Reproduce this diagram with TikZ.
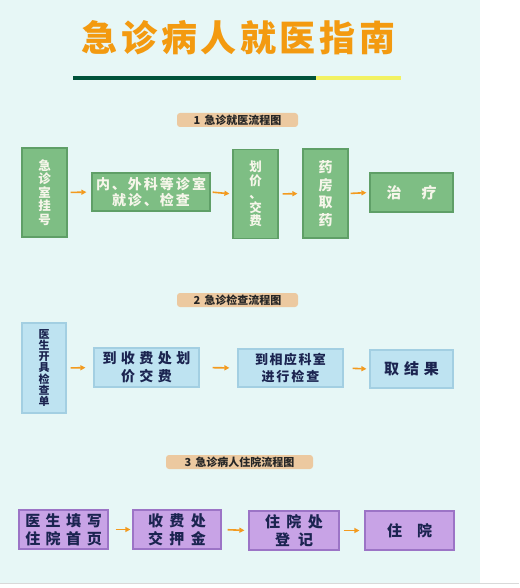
\documentclass[tikz,border=0pt]{standalone}
\usepackage{fontspec}
\newfontfamily\cjk{Noto Sans CJK SC}
\usetikzlibrary{arrows.meta}
\definecolor{bgcyan}{HTML}{E7F7F6}
\definecolor{titleor}{HTML}{F39A10}
\definecolor{arror}{HTML}{F39A1E}
\definecolor{dgreen}{HTML}{00533A}
\definecolor{lyellow}{HTML}{F2F262}
\definecolor{gfill}{HTML}{7EBE84}
\definecolor{gborder}{HTML}{5F9F67}
\definecolor{gtext}{HTML}{F6F6EA}
\definecolor{bfill}{HTML}{BEE3F1}
\definecolor{bborder}{HTML}{A3CFE2}
\definecolor{pfill}{HTML}{C8A3E6}
\definecolor{pborder}{HTML}{9C74C6}
\definecolor{navy}{HTML}{1B2450}
\definecolor{tan}{HTML}{ECC9A0}
\newlength\lsk
\def\ls#1#2{\setlength\lsk{#1}\lsA#2\relax\kern-\lsk}
\def\lsA#1{\ifx#1\relax\else#1\kern\lsk\expandafter\lsA\fi}
\tikzset{
  box/.style={rectangle, inner sep=0pt, align=center, line width=1.2pt},
  gbox/.style={box, fill=gfill, draw=gborder, text=gtext, font=\cjk\bfseries\fontsize{14}{16}\selectfont},
  bbox/.style={box, fill=bfill, draw=bborder, text=navy, font=\cjk\bfseries\fontsize{14}{18}\selectfont},
  pbox/.style={box, fill=pfill, draw=pborder, text=navy, font=\cjk\bfseries\fontsize{15}{18}\selectfont},
  lbl/.style={rectangle, rounded corners=3pt, fill=tan, inner sep=0pt, minimum height=14pt, text=black!85, font=\cjk\bfseries\fontsize{11}{12}\selectfont},
  arr/.style={-{Triangle[length=5pt,width=5pt]}, line width=1.6pt, draw=arror},
}
\begin{document}
\begin{tikzpicture}[x=1pt,y=-1pt]
\useasboundingbox (0,0) rectangle (519,588);
\fill[white] (0,0) rectangle (519,588);
\fill[bgcyan] (0,0) rectangle (480,583);
\draw[black!15, line width=0.8pt] (0,583.5) -- (519,583.5);
% title
\node[inner sep=0pt, text=titleor, font=\cjk\bfseries\fontsize{36}{40}\selectfont] (title) at (238.5,38) {\ls{3.6pt}{急诊病人就医指南}};
\draw[line width=4pt, dgreen] (73,78) -- (316,78);
\draw[line width=4pt, lyellow] (316,78) -- (401,78);
% section 1
\node[lbl, minimum width=121pt] (l1) at (237.5,120) {1\kern4pt 急诊就医流程图};
\node[gbox, minimum width=45pt, minimum height=89pt, font=\cjk\bfseries\fontsize{12.5}{13.6}\selectfont] (a1) at (44.5,192.5) {急\\诊\\室\\挂\\号};
\node[gbox, minimum width=118pt, minimum height=38pt] (b1) at (151,192) {\ls{2pt}{内、外科等诊室}\\\ls{2pt}{就诊、检查}};
\node[gbox, minimum width=45pt, minimum height=89pt, font=\cjk\bfseries\fontsize{12.5}{13.6}\selectfont] (c1) at (255.5,194) {划\\价\\、\\交\\费};
\node[gbox, minimum width=45pt, minimum height=89pt, font=\cjk\bfseries\fontsize{14}{17.5}\selectfont] (d1) at (325.5,193.5) {药\\房\\取\\药};
\node[gbox, minimum width=83pt, minimum height=39pt, font=\cjk\bfseries\fontsize{15}{17}\selectfont] (e1) at (411.5,192.5) {\ls{20pt}{治疗}};
\draw[arr, shorten <=3pt, shorten >=5pt] (a1.east) -- (b1.west);
\draw[arr, shorten <=2pt, shorten >=3pt] (b1.east) -- (c1.west);
\draw[arr, shorten <=4pt, shorten >=5pt] (c1.east) -- (d1.west);
\draw[arr, shorten <=2pt, shorten >=3pt] (d1.east) -- (e1.west);
% section 2
\node[lbl, minimum width=121pt] (l2) at (237.5,300) {2\kern4pt 急诊检查流程图};
\node[bbox, minimum width=44pt, minimum height=90pt, font=\cjk\bfseries\fontsize{11}{11.3}\selectfont] (a2) at (44,368) {医\\生\\开\\具\\检\\查\\单};
\node[bbox, minimum width=105pt, minimum height=39pt] (b2) at (146.5,367.5) {\ls{4.5pt}{到收费处划}\\\ls{4.5pt}{价交费}};
\node[bbox, minimum width=105pt, minimum height=38pt, font=\cjk\bfseries\fontsize{13}{17}\selectfont] (c2) at (290.5,368) {\ls{1.5pt}{到相应科室}\\\ls{2pt}{进行检查}};
\node[bbox, minimum width=83pt, minimum height=38pt, font=\cjk\bfseries\fontsize{15}{17}\selectfont] (d2) at (411.5,369) {\ls{5pt}{取结果}};
\draw[arr, shorten <=4pt, shorten >=8pt] (a2.east) -- (b2.west);
\draw[arr, shorten <=13pt, shorten >=8pt] (b2.east) -- (c2.west);
\draw[arr, shorten <=9pt, shorten >=3pt] (c2.east) -- (d2.west);
% section 3
\node[lbl, minimum width=147pt] (l3) at (239.5,462) {3\kern4pt 急诊病人住院流程图};
\node[pbox, minimum width=89pt, minimum height=39pt] (a3) at (63.5,529.5) {\ls{5.5pt}{医生填写}\\\ls{5.5pt}{住院首页}};
\node[pbox, minimum width=88pt, minimum height=39pt] (b3) at (177,529.5) {\ls{6.5pt}{收费处}\\\ls{6.5pt}{交押金}};
\node[pbox, minimum width=90pt, minimum height=39pt] (c3) at (294,530.5) {\ls{6.5pt}{住院处}\\\ls{8pt}{登记}};
\node[pbox, minimum width=89pt, minimum height=39pt] (d3) at (409.5,530.5) {\ls{15pt}{住院}};
\draw[arr, shorten <=7pt, shorten >=2pt] (a3.east) -- (b3.west);
\draw[arr, shorten <=6pt, shorten >=4pt] (b3.east) -- (c3.west);
\draw[arr, shorten <=4pt, shorten >=5pt] (c3.east) -- (d3.west);
\end{tikzpicture}
\end{document}
